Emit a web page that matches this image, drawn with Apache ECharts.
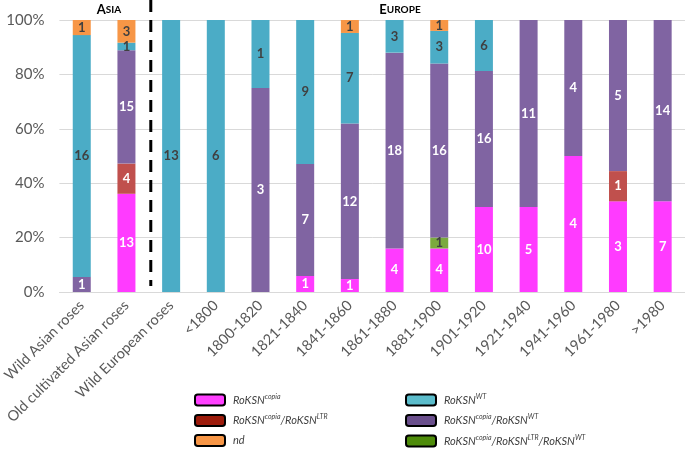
<!DOCTYPE html>
<html>
<head>
<meta charset="utf-8">
<script src="https://cdn.jsdelivr.net/npm/echarts@6/dist/echarts.min.js"></script>
<style>html,body{margin:0;padding:0;background:#fff;}#c{width:685px;height:457px;}</style>
</head>
<body>
<div id="c"></div>
<script>
const categories = ['Wild Asian roses','Old cultivated Asian roses','Wild European roses','<1800','1800-1820','1821-1840','1841-1860','1861-1880','1881-1900','1901-1920','1921-1940','1941-1960','1961-1980','>1980'];
const copia      = [0,13,0,0,0,1,1,4,4,10,5,4,3,7];
const copiaLTR   = [0,4,0,0,0,0,0,0,0,0,0,0,1,0];
const copiaLTRWT = [0,0,0,0,0,0,0,0,1,0,0,0,0,0];
const copiaWT    = [1,15,0,0,3,7,12,18,16,16,11,4,5,14];
const wt         = [16,1,13,6,1,9,7,3,3,6,0,0,0,0];
const nd         = [1,3,0,0,0,0,1,0,1,0,0,0,0,0];
const yTicks = [0,20,40,60,80,100];

const seriesDefs = [
  {key:'copia', data:copia, color:'#FF3BFF', legendColor:'#FF40FF', text:'#ffffff'},
  {key:'copiaLTR', data:copiaLTR, color:'#C0504D', legendColor:'#9C1B0B', text:'#ffffff'},
  {key:'copiaLTRWT', data:copiaLTRWT, color:'#7BAA3E', legendColor:'#4E8C0A', text:'#404040'},
  {key:'copiaWT', data:copiaWT, color:'#8064A2', legendColor:'#6A4F8C', text:'#ffffff'},
  {key:'wt', data:wt, color:'#4BACC6', legendColor:'#5BBCCB', text:'#404040'},
  {key:'nd', data:nd, color:'#F79646', legendColor:'#F79646', text:'#404040'}
];
const legendText = {
  copia: '{i|RoKSN}{s|copia}',
  copiaLTR: '{i|RoKSN}{s|copia}{i|/RoKSN}{s|LTR}',
  nd: '{i|nd}',
  wt: '{i|RoKSN}{s|WT}',
  copiaWT: '{i|RoKSN}{s|copia}{i|/RoKSN}{s|WT}',
  copiaLTRWT: '{i|RoKSN}{s|copia}{i|/RoKSN}{s|LTR}{i|/RoKSN}{s|WT}'
};

const totals = categories.map((c,i)=>seriesDefs.reduce((s,d)=>s+d.data[i],0));
const font = 'Lato, "Open Sans", sans-serif';

const series = seriesDefs.map(d=>({
  name:d.key, type:'bar', stack:'all', barWidth:18,
  itemStyle:{color:d.color},
  data:d.data.map((v,i)=>v/totals[i]*100),
  label:{show:true, position:'inside', color:d.text, fontWeight:'bold', fontSize:13, fontFamily:font,
    formatter:p=>{const v=d.data[p.dataIndex]; return v? String(v):'';}}
}));

const rich = {
  i:{fontStyle:'italic', fontSize:11, color:'#404040', fontFamily:font, lineHeight:14},
  s:{fontStyle:'italic', fontSize:7, color:'#404040', fontFamily:font, lineHeight:8, verticalAlign:'top'}
};
function legendData(keys){
  return keys.map(k=>{const d=seriesDefs.find(s=>s.key===k);return {name:k,itemStyle:{color:d.legendColor,borderColor:'#000',borderWidth:2}};});
}
const legendBase = {orient:'vertical', itemWidth:30, itemHeight:11, itemGap:7, icon:'roundRect',
  padding:0, height:80, width:250,
  formatter:n=>legendText[n], textStyle:{rich:rich, padding:[0,0,0,3]}, selectedMode:false};

const chart = echarts.init(document.getElementById('c'));
chart.setOption({
  animation:false,
  grid:{left:55, right:-7, top:20, bottom:165},
  xAxis:{type:'category', data:categories,
    axisLine:{lineStyle:{color:'#d9d9d9'}}, axisTick:{show:false},
    axisLabel:{rotate:45, color:'#595959', fontSize:14.5, fontFamily:font, interval:0, margin:11}},
  yAxis:{type:'value', min:0, max:100, interval:20,
    axisLabel:{formatter:'{value}%', color:'#595959', fontSize:15, fontFamily:font, margin:15},
    splitLine:{lineStyle:{color:'#d9d9d9'}}, axisLine:{show:false}},
  legend:[
    Object.assign({}, legendBase, {left:194, top:393, data:legendData(['copia','copiaLTR','nd'])}),
    Object.assign({}, legendBase, {left:405, top:393, data:legendData(['wt','copiaWT','copiaLTRWT'])})
  ],
  series:series
});

// dashed separator and region titles
const xA = chart.convertToPixel({xAxisIndex:0}, categories[1]);
const xB = chart.convertToPixel({xAxisIndex:0}, categories[2]);
const sepX = (xA+xB)/2 + 2;
chart.setOption({graphic:[
  {type:'line', shape:{x1:sepX,y1:0,x2:sepX,y2:286}, style:{stroke:'#000', lineWidth:3, lineDash:[12,8]}},
  {type:'text', x:109, y:10, style:{text:'{b|A}{m|SIA}', align:'center', verticalAlign:'middle',
    rich:{b:{fontSize:13,fontWeight:'bold',fontFamily:font,color:'#000'}, m:{fontSize:10,fontWeight:'bold',fontFamily:font,color:'#000'}}}},
  {type:'text', x:400, y:10, style:{text:'{b|E}{m|UROPE}', align:'center', verticalAlign:'middle',
    rich:{b:{fontSize:13,fontWeight:'bold',fontFamily:font,color:'#000'}, m:{fontSize:10,fontWeight:'bold',fontFamily:font,color:'#000'}}}}
]});
</script>
</body>
</html>
